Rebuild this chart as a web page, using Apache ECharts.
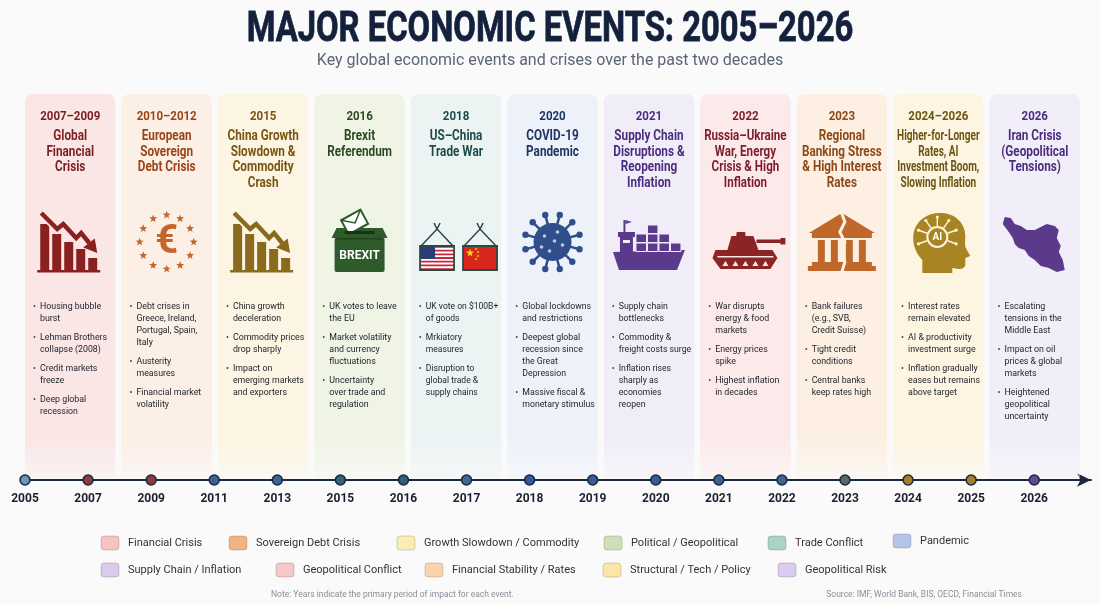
<!DOCTYPE html>
<html>
<head>
<meta charset="utf-8">
<script src="https://cdn.jsdelivr.net/npm/echarts@6/dist/echarts.min.js"></script>
<style>
html, body { margin: 0; padding: 0; background: #fafafb; }
#main { width: 1100px; height: 604px; }
</style>
</head>
<body>
<div id="main"></div>
<script>
// events, one card each
const eventYears = ['2007–2009', '2010–2012', '2015', '2016', '2018', '2020', '2021', '2022', '2023', '2024–2026', '2026']
const eventTitles = [
    'Global\nFinancial\nCrisis',
    'European\nSovereign\nDebt Crisis',
    'China Growth\nSlowdown &\nCommodity\nCrash',
    'Brexit\nReferendum',
    'US–China\nTrade War',
    'COVID-19\nPandemic',
    'Supply Chain\nDisruptions &\nReopening\nInflation',
    'Russia–Ukraine\nWar, Energy\nCrisis & High\nInflation',
    'Regional\nBanking Stress\n& High Interest\nRates',
    'Higher-for-Longer\nRates, AI\nInvestment Boom,\nSlowing Inflation',
    'Iran Crisis\n(Geopolitical\nTensions)'
]
const eventBullets = [
    ['Housing bubble\nburst', 'Lehman Brothers\ncollapse (2008)', 'Credit markets\nfreeze', 'Deep global\nrecession'],
    ['Debt crises in\nGreece, Ireland,\nPortugal, Spain,\nItaly', 'Austerity\nmeasures', 'Financial market\nvolatility'],
    ['China growth\ndeceleration', 'Commodity prices\ndrop sharply', 'Impact on\nemerging markets\nand exporters'],
    ['UK votes to leave\nthe EU', 'Market volatility\nand currency\nfluctuations', 'Uncertainty\nover trade and\nregulation'],
    ['UK vote on $100B+\nof goods', 'Mrkiatory\nmeasures', 'Disruption to\nglobal trade &\nsupply chains'],
    ['Global lockdowns\nand restrictions', 'Deepest global\nrecession since\nthe Great\nDepression', 'Massive fiscal &\nmonetary stimulus'],
    ['Supply chain\nbottlenecks', 'Commodity &\nfreight costs surge', 'Inflation rises\nsharply as\neconomies\nreopen'],
    ['War disrupts\nenergy & food\nmarkets', 'Energy prices\nspike', 'Highest inflation\nin decades'],
    ['Bank failures\n(e.g., SVB,\nCredit Suisse)', 'Tight credit\nconditions', 'Central banks\nkeep rates high'],
    ['Interest rates\nremain elevated', 'AI & productivity\ninvestment surge', 'Inflation gradually\neases but remains\nabove target'],
    ['Escalating\ntensions in the\nMiddle East', 'Impact on oil\nprices & global\nmarkets', 'Heightened\ngeopolitical\nuncertainty']
]
// timeline ticks
const timelineYears = ['2005', '2007', '2009', '2011', '2013', '2015', '2016', '2017', '2018', '2019', '2020', '2021', '2022', '2023', '2024', '2025', '2026']
// legend
const legendNames = ['Financial Crisis', 'Sovereign Debt Crisis', 'Growth Slowdown / Commodity', 'Political / Geopolitical', 'Trade Conflict', 'Pandemic',
    'Supply Chain / Inflation', 'Geopolitical Conflict', 'Financial Stability / Rates', 'Structural / Tech / Policy', 'Geopolitical Risk']

// styles
const cardFills = ['#fbe6e6', '#fcefe5', '#fdf5e3', '#f0f4e5', '#ecf3f3', '#edf1f9', '#f1edf8', '#fceaea', '#fdf0e3', '#fdf5e1', '#f1edf9']
const cardInk = ['#7b1e1e', '#9c4318', '#7a5410', '#2c4a22', '#1e4a4a', '#1e3563', '#4b2d7f', '#7b1e2a', '#8d4a18', '#6b5512', '#4b2d7f']
const iconInk = ['#8b2020', '#c4662a', '#8a6a1c', '#2f5a2a', '#2a4848', '#2f4f8c', '#5b3a8c', '#8b2525', '#c0682a', '#a98422', '#5b3a8c']
const dotColors = ['#6f93bb', '#8e3b3b', '#8e3b3b', '#3a6591', '#3a6591', '#2f6470', '#2d6178', '#3a6a91', '#2f5a93', '#355d92', '#355d92', '#3a6591', '#3a6591', '#566a66', '#a37f2a', '#a37f2a', '#5f4b95']
const legendColors = ['#f6c4c4', '#f2b383', '#fbecb5', '#cfe0b9', '#a9d3c9', '#b3c6ea', '#d8cbee', '#f6c8c8', '#fad2ad', '#fbe6a8', '#dccbf0']
const legendSlots = [[101, 543], [229, 543], [397, 543], [604, 543], [768, 543], [893, 541], [101, 570], [276, 570], [425, 570], [603, 570], [778, 570]]

const FONT = 'Roboto, "Noto Sans", sans-serif'
const measure = document.createElement('canvas').getContext('2d')
function widest(text, font) {
    measure.font = font
    return Math.max.apply(null, text.split('\n').map(s => measure.measureText(s).width))
}

// small drawing helpers (local coords, icon centred on 0,0)
const R = (x, y, w, h, fill, r) => ({ type: 'rect', shape: { x, y, width: w, height: h, r: r || 0 }, style: { fill } })
const P = (points, fill) => ({ type: 'polygon', shape: { points }, style: { fill } })
const L = (points, stroke, lw) => ({ type: 'polyline', shape: { points }, style: { stroke, lineWidth: lw, fill: null } })
const C = (cx, cy, r, fill) => ({ type: 'circle', shape: { cx, cy, r }, style: { fill } })
function star(cx, cy, r0, fill) {
    const pts = []
    for (let k = 0; k < 10; k++) {
        const r = k % 2 ? r0 * 0.42 : r0
        const a = -Math.PI / 2 + k * Math.PI / 5
        pts.push([cx + r * Math.cos(a), cy + r * Math.sin(a)])
    }
    return P(pts, fill)
}

function fallingBars(ink, bg) {
    const out = []
    ;[46, 36, 28, 21, 12].forEach((bh, k) => out.push(R(-30 + k * 12, 28 - bh, 9, bh, ink)))
    out.push(R(-33, 28, 63, 2.5, ink))
    const zig = [[-29, -29], [-13, -13], [-7, -18], [6, -4], [11, -9], [19, 1]]
    out.push(L(zig, bg, 8))
    out.push(L(zig, ink, 4.5))
    out.push(P([[27, 11], [24.5, -3.5], [13, 5.5]], ink))
    return out
}

function iconParts(i, ink, bg) {
    switch (i) {
        case 0:
        case 2:
            return fallingBars(ink, bg)
        case 1: {
            const out = [{ type: 'text', x: 0, y: 1, style: { text: '€', font: 'bold 40px ' + FONT, fill: ink, align: 'center', verticalAlign: 'middle' } }]
            for (let k = 0; k < 12; k++) {
                const a = k * Math.PI / 6
                out.push(star(27 * Math.cos(a), 27 * Math.sin(a), 4.2, ink))
            }
            return out
        }
        case 3:
            return [
                R(-25, -4, 50, 34, ink, 2),
                P([[-28, -4], [28, -4], [23, -14], [-23, -14]], ink),
                { type: 'group', x: -5, y: -20, rotation: 0.5, children: [
                    { type: 'rect', shape: { x: -11, y: -8, width: 22, height: 16 }, style: { fill: '#ffffff', stroke: ink, lineWidth: 2 } },
                    L([[-11, -8], [0, 1], [11, -8]], ink, 1.5)
                ] },
                R(-15, -11, 30, 3, '#17331a'),
                R(-25, -4, 50, 1.5, 'rgba(0,0,0,0.25)'),
                { type: 'text', x: 0, y: 14, style: { text: 'BREXIT', font: 'bold 12px ' + FONT, fill: '#ffffff', align: 'center', verticalAlign: 'middle' } }
            ]
        case 4: {
            const out = []
            ;[-19, 24].forEach((ox, f) => {
                out.push(L([[ox - 16, 4], [ox, -13], [ox + 16, 4]], ink, 1.5))
                out.push(L([[ox - 3, -19], [ox, -13], [ox + 3, -19]], ink, 1.5))
                if (f === 0) {
                    out.push(R(ox - 17, 4, 34, 24, '#ffffff'))
                    for (let s = 0; s < 7; s++) out.push(R(ox - 17, 4 + s * 2 * 24 / 13, 34, 24 / 13, '#c8283a'))
                    out.push(R(ox - 17, 4, 15, 24 * 7 / 13, '#2b3d7a'))
                } else {
                    out.push(R(ox - 17, 4, 34, 24, '#d8261c'))
                    out.push(star(ox - 10, 11, 4.2, '#f7d417'))
                    ;[[-4, 7], [-2, 10], [-2, 14], [-4, 17]].forEach(p => out.push(star(ox + p[0], p[1], 1.5, '#f7d417')))
                }
                out.push({ type: 'rect', shape: { x: ox - 17, y: 4, width: 34, height: 24 }, style: { fill: null, stroke: ink, lineWidth: 1.8 } })
            })
            return out
        }
        case 5: {
            const out = []
            for (let k = 0; k < 12; k++) {
                const a = (k * 30 + 15) * Math.PI / 180
                const c = Math.cos(a), s = Math.sin(a)
                out.push({ type: 'line', shape: { x1: 17 * c, y1: 17 * s, x2: 26 * c, y2: 26 * s }, style: { stroke: ink, lineWidth: 2.5 } })
                out.push(C(28 * c, 28 * s, 3.2, ink))
            }
            out.push(C(0, 0, 19, ink))
            ;[[-8, -6], [5, -10], [10, 3], [-3, 9], [-11, 5], [2, -1]].forEach(p => out.push(C(p[0], p[1], 1.8, 'rgba(255,255,255,0.7)')))
            return out
        }
        case 6: {
            const out = [
                P([[-36, 10], [36, 8], [28, 28], [-30, 28]], ink),
                R(-29, -6, 13, 16, ink),
                R(-31, -10, 17, 5, ink),
                R(-25.5, -22, 2, 12, ink),
                P([[-23.5, -22], [-17, -20], [-23.5, -18]], ink),
                R(-26, -2, 7, 3, bg)
            ]
            ;[[-13, 1], [-1.5, 1], [10, 1], [21.5, 1], [-13, -8], [-1.5, -8], [10, -8], [-1.5, -17]].forEach(p =>
                out.push({ type: 'rect', shape: { x: p[0], y: p[1], width: 10.5, height: 8.5 }, style: { fill: ink, stroke: bg, lineWidth: 1 } }))
            return out
        }
        case 7: {
            const out = [
                P([[-30, 8], [27, 8], [32, 16], [25, 27], [-25, 27], [-33, 16]], ink),
                P([[-18, 8], [-14, -6], [8, -6], [13, 8]], ink),
                R(-9, -10, 9, 5, ink, 1),
                R(11, -2.5, 26, 3.5, ink),
                R(35, -4, 5, 6.5, ink),
                R(-28, 14, 56, 1.5, bg)
            ]
            ;[-20, -10, 0, 10, 20].forEach(x => out.push(P([[x - 3, 24], [x + 3, 24], [x, 19]], bg)))
            return out
        }
        case 8: {
            const out = [
                P([[-33, -9], [0, -29], [33, -9]], ink),
                R(-30, -9, 60, 5, ink),
                R(-30, 20, 60, 4, ink),
                R(-34, 24, 68, 5, ink)
            ]
            ;[-24, -11, 4, 17].forEach(x => out.push(R(x, -2, 7, 22, ink)))
            out.push(L([[-1, -31], [3, -20], [-2, -10], [3, 0], [-1, 10], [3, 20], [0, 30]], bg, 3))
            return out
        }
        case 9: {
            const out = [{ type: 'path', shape: { pathData: 'M -16 31 L -16 18 C -24 10 -27 -2 -24 -12 C -20 -24 -8 -30 4 -29 C 18 -28 27 -18 27 -6 C 27 0 26 3 28 7 L 32 14 L 27 16 L 27 22 C 27 26 24 27 20 27 L 14 26 L 14 31 Z' }, style: { fill: ink } }]
            ;[-160, -125, -90, -55, -20, 160, 20].forEach(d => {
                const a = d * Math.PI / 180, c = Math.cos(a), s = Math.sin(a)
                out.push({ type: 'line', shape: { x1: -1 + 11 * c, y1: -5 + 11 * s, x2: -1 + 19 * c, y2: -5 + 19 * s }, style: { stroke: bg, lineWidth: 1.4 } })
                out.push(C(-1 + 20 * c, -5 + 20 * s, 1.6, bg))
            })
            out.push({ type: 'circle', shape: { cx: -1, cy: -5, r: 10 }, style: { fill: ink, stroke: bg, lineWidth: 2 } })
            out.push({ type: 'text', x: -1, y: -5, style: { text: 'AI', font: 'bold 10px ' + FONT, fill: '#ffffff', align: 'center', verticalAlign: 'middle' } })
            return out
        }
        default:
            return [P([[-30, -25], [-24, -24], [-20, -18], [-14, -16], [-8, -12], [0, -12], [6, -15], [12, -18], [20, -16], [24, -12],
                [22, -4], [26, 4], [24, 10], [28, 18], [30, 28], [22, 30], [14, 26], [6, 24], [0, 18], [-6, 14], [-10, 8], [-16, 6],
                [-20, 2], [-22, -4], [-26, -10], [-32, -18]], ink)]
    }
}

function renderCard(params, api) {
    const i = params.dataIndex
    const top = api.coord([i, 1])
    const bot = api.coord([i, 0])
    const w = api.size([1, 0])[0] - 6
    const cx = top[0], left = cx - w / 2, y0 = top[1], h = bot[1] - y0
    const ink = cardInk[i]
    const kids = []
    kids.push({
        type: 'rect', shape: { x: left, y: y0, width: w, height: h, r: [8, 8, 0, 0] },
        style: { fill: new echarts.graphic.LinearGradient(0, 0, 0, 1, [
            { offset: 0, color: cardFills[i] }, { offset: 0.9, color: cardFills[i] },
            { offset: 1, color: echarts.color.modifyAlpha(cardFills[i], 0.35) }]) }
    })
    kids.push({ type: 'text', x: cx, y: y0 + 23, scaleX: 0.92,
        style: { text: eventYears[i], font: 'bold 12.5px ' + FONT, fill: ink, align: 'center', verticalAlign: 'middle' } })
    const tf = 'bold 14px ' + FONT
    const ts = Math.min(0.84, (w - 8) / widest(eventTitles[i], tf))
    kids.push({ type: 'text', x: cx, y: y0 + 35, scaleX: ts,
        style: { text: eventTitles[i], font: tf, fill: ink, align: 'center', verticalAlign: 'top', lineHeight: 15.5 } })
    kids.push({ type: 'group', x: cx, y: y0 + 148, children: iconParts(i, iconInk[i], cardFills[i]) })

    const bf = '8.8px ' + FONT
    const bullets = eventBullets[i]
    const bw = Math.max.apply(null, bullets.map(b => widest(b, bf)))
    const bs = Math.min(1, (w - 18) / bw)
    let y = y0 + 207
    bullets.forEach(b => {
        kids.push({ type: 'text', x: left + 8, y, style: { text: '•', font: bf, fill: '#444', verticalAlign: 'top', lineHeight: 12 } })
        kids.push({ type: 'text', x: left + 15, y, scaleX: bs, style: { text: b, font: bf, fill: '#23262e', verticalAlign: 'top', lineHeight: 12 } })
        y += b.split('\n').length * 12 + 7
    })
    return { type: 'group', children: kids }
}

// title, legend and footer
const graphics = [
    { type: 'text', x: 550, y: 30, scaleX: 0.78,
        style: { text: 'MAJOR ECONOMIC EVENTS: 2005–2026', font: 'bold 42px ' + FONT, fill: '#14213d', stroke: '#14213d', lineWidth: 0.8, align: 'center', verticalAlign: 'middle' } },
    { type: 'text', x: 550, y: 61,
        style: { text: 'Key global economic events and crises over the past two decades', font: '16px ' + FONT, fill: '#5b6577', align: 'center', verticalAlign: 'middle' } },
    { type: 'text', x: 271, y: 595,
        style: { text: 'Note: Years indicate the primary period of impact for each event.', font: '8.5px ' + FONT, fill: '#8a8f98', verticalAlign: 'middle' } },
    { type: 'text', x: 1022, y: 595,
        style: { text: 'Source: IMF, World Bank, BIS, OECD, Financial Times', font: '8.5px ' + FONT, fill: '#8a8f98', align: 'right', verticalAlign: 'middle' } }
]
legendNames.forEach((n, k) => {
    const [x, y] = legendSlots[k]
    graphics.push({ type: 'rect', shape: { x, y: y - 7, width: 18, height: 14, r: 3 }, style: { fill: legendColors[k], stroke: 'rgba(90,60,40,0.22)', lineWidth: 1 } })
    graphics.push({ type: 'text', x: x + 27, y, style: { text: n, font: '11px ' + FONT, fill: '#333', verticalAlign: 'middle' } })
})

let myChart = echarts.init(document.getElementById('main'))
let option = {
    backgroundColor: '#fafafb',
    animation: false,
    graphic: { elements: graphics },
    grid: [
        { left: 22, right: 17, top: 94, bottom: 126 },
        { left: 25, width: 1066, top: 430, height: 50 }
    ],
    xAxis: [
        { type: 'category', gridIndex: 0, data: eventYears, show: false },
        {
            type: 'value', gridIndex: 1, min: 0, max: 16.9, interval: 1,
            axisLine: { show: true, symbol: ['none', 'arrow'], symbolSize: [10, 14], lineStyle: { color: '#1c2740', width: 2 } },
            axisTick: { show: false },
            splitLine: { show: false },
            axisLabel: {
                formatter: v => timelineYears[v] || '',
                color: '#1b2030', fontWeight: 'bold', fontSize: 12, fontFamily: 'Roboto', margin: 13
            }
        }
    ],
    yAxis: [
        { type: 'value', gridIndex: 0, min: 0, max: 1, show: false },
        { type: 'value', gridIndex: 1, min: 0, max: 1, show: false }
    ],
    series: [
        {
            type: 'custom', xAxisIndex: 0, yAxisIndex: 0, silent: true, z: 1,
            data: eventYears.map((y, i) => [i, 1]),
            renderItem: renderCard
        },
        {
            type: 'scatter', xAxisIndex: 1, yAxisIndex: 1, silent: true, z: 5, clip: false,
            data: timelineYears.map((y, i) => [i, 0]),
            symbolSize: 10,
            itemStyle: { color: p => dotColors[p.dataIndex], borderColor: '#1c2740', borderWidth: 1.5, opacity: 1 }
        }
    ]
}
myChart.setOption(option)
</script>
</body>
</html>
